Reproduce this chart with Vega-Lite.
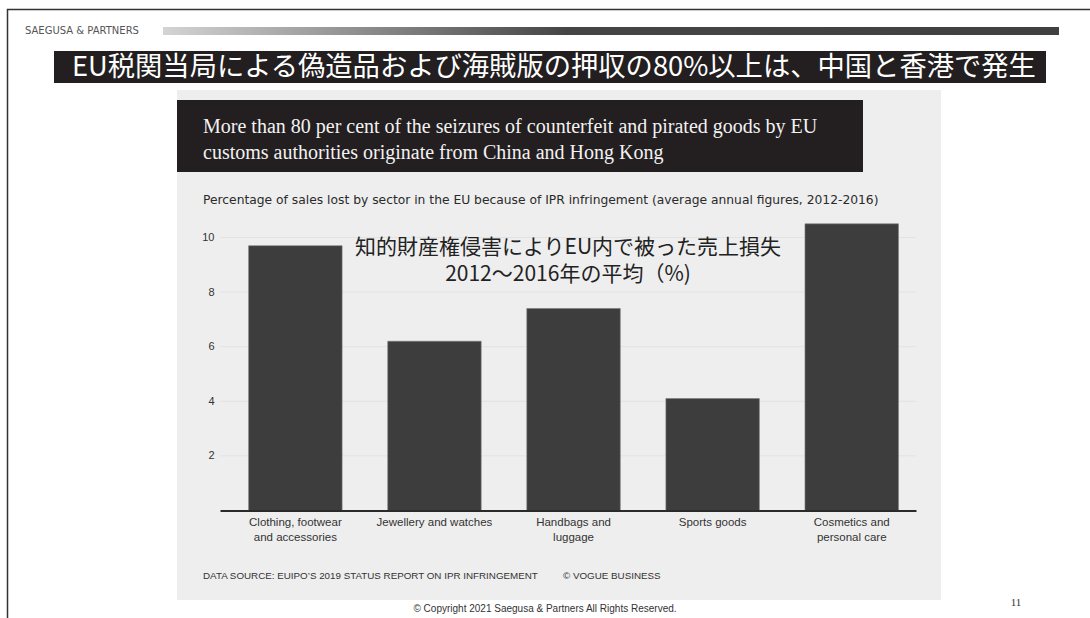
{
  "$schema": "https://vega.github.io/schema/vega-lite/v6.json",
  "width": 696,
  "height": 273,
  "autosize": {"type": "none"},
  "padding": {"left": 220, "top": 237.5, "right": 174, "bottom": 107.5},
  "background": "#ffffff",
  "config": {"view": {"stroke": null}, "font": "Liberation Sans"},
  "layer": [
    {
      "data": {"values": [{}]},
      "mark": {"type": "rect", "x": -212.5, "x2": 880, "y": -228, "y2": 462.5, "fill": null, "stroke": "#333333", "strokeWidth": 1.5},
      "encoding": {}
    },
    {
      "data": {"values": [{}]},
      "mark": {"type": "text", "x": -195, "y": -206.5, "align": "left", "baseline": "middle", "font": "DejaVu Sans", "fontSize": 10, "color": "#555555", "text": "SAEGUSA & PARTNERS"},
      "encoding": {}
    },
    {
      "data": {"values": [{}]},
      "mark": {"type": "rect", "x": -57, "x2": 839, "y": -210.5, "y2": -202.5, "fill": {"gradient": "linear", "x1": 0, "x2": 1, "y1": 0, "y2": 0, "stops": [{"offset": 0, "color": "#d4d4d4"}, {"offset": 0.45, "color": "#454545"}, {"offset": 1, "color": "#404040"}]}},
      "encoding": {}
    },
    {
      "data": {"values": [{}]},
      "mark": {"type": "rect", "x": -166, "x2": 826, "y": -186.5, "y2": -154.5, "fill": "#231f20"},
      "encoding": {}
    },
    {
      "data": {"values": [{}]},
      "mark": {"type": "text", "x": -148, "y": -170, "align": "left", "baseline": "middle", "font": "Noto Sans CJK JP", "fontSize": 27.3, "color": "#ffffff", "text": "EU税関当局による偽造品および海賊版の押収の80%以上は、中国と香港で発生"},
      "encoding": {}
    },
    {
      "data": {"values": [{}]},
      "mark": {"type": "rect", "x": -43, "x2": 721, "y": -147.5, "y2": 362.5, "fill": "#eeeeee"},
      "encoding": {}
    },
    {
      "data": {"values": [{}]},
      "mark": {"type": "rect", "x": -43, "x2": 643, "y": -137.5, "y2": -65.5, "fill": "#231f20"},
      "encoding": {}
    },
    {
      "data": {"values": [{}]},
      "mark": {"type": "text", "x": -17, "y": -110.5, "align": "left", "baseline": "middle", "font": "Liberation Serif", "fontSize": 20, "lineHeight": 26, "color": "#f2f2f2", "text": ["More than 80 per cent of the seizures of counterfeit and pirated goods by EU", "customs authorities originate from China and Hong Kong"]},
      "encoding": {}
    },
    {
      "data": {"values": [{}]},
      "mark": {"type": "text", "x": -17, "y": -37.5, "align": "left", "baseline": "middle", "font": "DejaVu Sans", "fontSize": 12.3, "color": "#2a2a2a", "text": "Percentage of sales lost by sector in the EU because of IPR infringement (average annual figures, 2012-2016)"},
      "encoding": {}
    },
    {
      "data": {"values": [{"g": 2}, {"g": 4}, {"g": 6}, {"g": 8}, {"g": 10}]},
      "mark": {"type": "rule", "color": "#e2e2e2", "strokeWidth": 1},
      "encoding": {
        "y": {"field": "g", "type": "quantitative"}
      }
    },
    {
      "data": {"values": [
        {"sector": "Clothing, footwear and accessories", "pct": 9.7},
        {"sector": "Jewellery and watches", "pct": 6.2},
        {"sector": "Handbags and luggage", "pct": 7.4},
        {"sector": "Sports goods", "pct": 4.1},
        {"sector": "Cosmetics and personal care", "pct": 10.5}
      ]},
      "mark": {"type": "bar", "fill": "#3d3d3d", "stroke": "#7a7a7a", "strokeWidth": 0.6},
      "encoding": {
        "x": {
          "field": "sector", "type": "nominal", "sort": null,
          "scale": {"paddingInner": 0.328, "paddingOuter": 0.166, "align": 0.62},
          "axis": {
            "title": null, "labelAngle": 0, "ticks": false, "tickSize": 0, "zindex": 1,
            "domainColor": "#2a2a2a", "domainWidth": 2,
            "labelFontSize": 11.5, "labelColor": "#333333", "labelPadding": 6,
            "labelBaseline": "top", "labelLineHeight": 15,
            "labelExpr": "datum.value == 'Clothing, footwear and accessories' ? ['Clothing, footwear', 'and accessories'] : datum.value == 'Handbags and luggage' ? ['Handbags and', 'luggage'] : datum.value == 'Cosmetics and personal care' ? ['Cosmetics and', 'personal care'] : datum.value"
          }
        },
        "y": {
          "field": "pct", "type": "quantitative",
          "scale": {"domain": [0, 10], "nice": false},
          "axis": {
            "title": null, "values": [2, 4, 6, 8, 10], "domain": false, "ticks": false, "tickSize": 0, "grid": false, "zindex": 1,
            "labelPadding": 6, "labelFontSize": 11, "labelColor": "#333333"
          }
        }
      }
    },
    {
      "data": {"values": [{}]},
      "mark": {"type": "text", "x": 348, "y": 10, "align": "center", "baseline": "middle", "font": "Noto Sans CJK JP", "fontSize": 21, "lineHeight": 27, "color": "#222222", "text": ["知的財産権侵害によりEU内で被った売上損失", "2012～2016年の平均（%)"]},
      "encoding": {}
    },
    {
      "data": {"values": [{}]},
      "mark": {"type": "text", "x": -17, "y": 338.5, "align": "left", "baseline": "middle", "fontSize": 9.8, "color": "#333333", "text": "DATA SOURCE: EUIPO’S 2019 STATUS REPORT ON IPR INFRINGEMENT"},
      "encoding": {}
    },
    {
      "data": {"values": [{}]},
      "mark": {"type": "text", "x": 343, "y": 338.5, "align": "left", "baseline": "middle", "fontSize": 9.8, "color": "#333333", "text": "© VOGUE BUSINESS"},
      "encoding": {}
    },
    {
      "data": {"values": [{}]},
      "mark": {"type": "text", "x": 325, "y": 371.5, "align": "center", "baseline": "middle", "fontSize": 10, "color": "#333333", "text": "© Copyright 2021 Saegusa & Partners All Rights Reserved."},
      "encoding": {}
    },
    {
      "data": {"values": [{}]},
      "mark": {"type": "text", "x": 796, "y": 365, "align": "center", "baseline": "middle", "font": "Liberation Serif", "fontSize": 11, "color": "#333333", "text": "11"},
      "encoding": {}
    }
  ]
}
